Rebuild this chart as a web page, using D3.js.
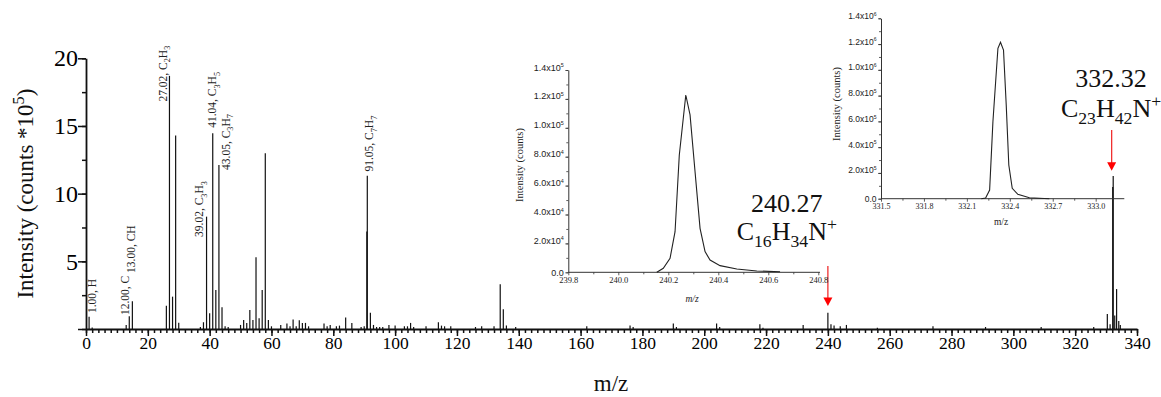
<!DOCTYPE html>
<html>
<head>
<meta charset="utf-8">
<script src="https://cdn.jsdelivr.net/npm/d3@7"></script>
<style>
  body { margin: 0; background: #fff; }
  svg { display: block; font-family: "Liberation Serif", "Times New Roman", serif; }
</style>
</head>
<body>
<div id="chart"></div>
<script>
// mass spectrum peaks (m/z, intensity in counts*10^5)
const peakMz = [1, 2, 13, 14, 15, 26, 27, 28, 29, 30, 37, 38, 39, 40, 41, 42, 43, 44, 45, 46,
  50, 51, 52, 53, 54, 55, 56, 57, 58, 59, 60, 63, 65, 66, 67, 68, 69, 70, 71, 72,
  77, 78, 79, 81, 82, 84, 86, 89, 90, 90.85, 91, 92, 93, 94, 95, 96, 98, 100, 103, 104,
  105, 106, 110, 114, 115, 116, 118, 126, 128, 132, 134, 135, 136, 139, 162, 176, 177, 190, 191, 204,
  205, 218, 219, 232, 240, 241, 242, 244, 246, 256, 274, 291, 309, 326, 330.4, 331.3, 332.15, 332.3, 332.8, 333.4,
  334.1, 334.6];
const peakInt = [0.91, 0.12, 0.3, 0.95, 2.05, 1.72, 18.7, 2.39, 14.29, 0.47, 0.15, 0.5, 8.3, 1.16, 14.46, 2.88, 12.12, 1.6, 0.2, 0.15,
  0.3, 0.66, 0.45, 1.4, 0.66, 5.3, 0.79, 2.88, 12.98, 0.66, 0.2, 0.3, 0.4, 0.2, 0.7, 0.2, 0.65, 0.45, 0.45, 0.2,
  0.4, 0.2, 0.3, 0.2, 0.25, 0.85, 0.45, 0.15, 0.2, 7.2, 11.33, 1.2, 0.3, 0.15, 0.15, 0.15, 0.3, 0.25, 0.2, 0.2,
  0.45, 0.15, 0.2, 0.5, 0.25, 0.2, 0.2, 0.15, 0.2, 0.2, 3.3, 1.45, 0.25, 0.15, 0.2, 0.25, 0.15, 0.4, 0.15, 0.4,
  0.15, 0.35, 0.1, 0.3, 1.2, 0.35, 0.25, 0.2, 0.3, 0.1, 0.2, 0.15, 0.15, 0.15, 1.1, 0.35, 10.5, 11.3, 1.0, 2.95,
  0.6, 0.3];

// fragment labels (anchor in data units, text with _{sub})
const labelMz = [3.1, 13.75, 15.85, 26.05, 38.0, 42.2, 46.6, 93.0];
const labelInt = [1.18, 1.03, 4.14, 16.8, 6.8, 14.86, 11.75, 11.63];
const labelText = ["1.00, H", "12.00, C", "13.00, CH", "27.02, C_{2}H_{3}", "39.02, C_{3}H_{3}",
  "41.04, C_{3}H_{5}", "43.05, C_{3}H_{7}", "91.05, C_{7}H_{7}"];

// molecular ion annotations
const ionMz = [226.7, 331.6];
const ionMassInt = [8.67, 17.9];
const ionFormulaInt = [6.58, 15.69];
const ionMass = ["240.27", "332.32"];
const ionFormula = ["C_{16}H_{34}N^{+}", "C_{23}H_{42}N^{+}"];
const arrowMz = [240.0, 331.8];
const arrowTop = [4.66, 14.7];
const arrowTip = [1.7, 11.7];

// axis ticks
const xTicks = [0, 20, 40, 60, 80, 100, 120, 140, 160, 180, 200, 220, 240, 260, 280, 300, 320, 340];
const yTicks = [0, 5, 10, 15, 20];

// inset 1: zoom on m/z 240.27
const in1Mz = [240.154, 240.18, 240.207, 240.227, 240.244, 240.27, 240.287, 240.307, 240.327, 240.347,
  240.367, 240.407, 240.474, 240.554, 240.647];
const in1Counts = [0, 2770, 9690, 28100, 81200, 122700, 108900, 69600, 30400, 14300,
  8500, 4600, 2300, 900, 400];
const in1XTicks = [239.8, 240.0, 240.2, 240.4, 240.6, 240.8];
const in1YTicks = [0, 2e4, 4e4, 6e4, 8e4, 1e5, 1.2e5, 1.4e5];

// inset 2: zoom on m/z 332.32
const in2Mz = [332.201, 332.231, 332.259, 332.282, 332.317, 332.335, 332.356, 332.375, 332.393, 332.417,
  332.456, 332.537, 332.676];
const in2Counts = [0, 5400, 67500, 597600, 1167000, 1213800, 1154000, 727000, 261500, 80700,
  34100, 7800, 0];
const in2XTicks = [331.5, 331.8, 332.1, 332.4, 332.7, 333.0];
const in2YTicks = [0, 2e5, 4e5, 6e5, 8e5, 1e6, 1.2e6, 1.4e6];

const w = 1161, h = 397;

const svg = d3.select("#chart")
  .append("svg")
  .attr("width", w)
  .attr("height", h);

// write text with _{sub} and ^{sup} parts as tspans
function rich(text, str, scale) {
  const fs = parseFloat(text.attr("font-size"));
  const parts = str.split(/([_^]\{[^}]*\})/).filter(s => s.length);
  let shift = 0;
  parts.forEach(p => {
    let target = 0, content = p, small = false;
    if (p[0] === "_") { target = 0.28 * fs; content = p.slice(2, -1); small = true; }
    else if (p[0] === "^") { target = -0.38 * fs; content = p.slice(2, -1); small = true; }
    const t = text.append("tspan").attr("dy", target - shift).text(content);
    if (small) t.attr("font-size", fs * scale);
    shift = target;
  });
}

// ---------- main spectrum ----------
const x = d3.scaleLinear().domain([0, 340]).range([86, 1137]);
const y = d3.scaleLinear().domain([0, 20]).range([329, 58.3]);

// peaks
svg.append("g")
  .selectAll("line")
  .data(peakMz)
  .join("line")
    .attr("x1", d => x(d))
    .attr("x2", d => x(d))
    .attr("y1", y(0))
    .attr("y2", (d, i) => y(peakInt[i]))
    .attr("stroke", "#111")
    .attr("stroke-width", 1.2);

// x axis (major + minor)
const axisX = svg.append("g")
  .attr("transform", `translate(0,${y(0)})`)
  .call(d3.axisBottom(x).tickValues(xTicks).tickSize(7).tickPadding(1).tickSizeOuter(0));
svg.append("g")
  .attr("transform", `translate(0,${y(0)})`)
  .call(d3.axisBottom(x).tickValues(d3.range(0, 341, 2)).tickSize(4).tickFormat("").tickSizeOuter(0))
  .call(g => g.select(".domain").remove());
axisX.selectAll("text")
  .attr("font-family", "Liberation Serif")
  .attr("font-size", 17.5)
  .attr("fill", "#000");

// y axis (major + minor)
const axisY = svg.append("g")
  .attr("transform", `translate(${x(0)},0)`)
  .call(d3.axisLeft(y).tickValues(yTicks).tickSize(8).tickPadding(0).tickSizeOuter(0)
    .tickFormat(d => d === 0 ? "" : d));
svg.append("g")
  .attr("transform", `translate(${x(0)},0)`)
  .call(d3.axisLeft(y).tickValues(d3.range(0, 20.1, 2.5)).tickSize(4).tickFormat("").tickSizeOuter(0))
  .call(g => g.select(".domain").remove());
axisY.selectAll("text")
  .attr("font-family", "Liberation Serif")
  .attr("font-size", 24)
  .attr("fill", "#000");

svg.selectAll(".domain").attr("stroke-width", 1.8).attr("stroke", "#111");
svg.selectAll(".tick line").attr("stroke-width", 1.5).attr("stroke", "#111");

// axis titles
const yTitle = svg.append("text")
  .attr("transform", `translate(33,${(y(0) + y(20)) / 2}) rotate(-90)`)
  .attr("text-anchor", "middle")
  .attr("font-size", 23)
  .attr("fill", "#111");
rich(yTitle, "Intensity (counts *10^{5})", 0.7);

svg.append("text")
  .attr("x", 611)
  .attr("y", 391)
  .attr("text-anchor", "middle")
  .attr("font-size", 23)
  .attr("fill", "#111")
  .text("m/z");

// fragment labels
labelText.forEach((t, i) => {
  const txt = svg.append("text")
    .attr("transform", `translate(${x(labelMz[i])},${y(labelInt[i])}) rotate(-90)`)
    .attr("font-size", 11.5)
    .attr("fill", "#222");
  rich(txt, t, 0.72);
});

// ion annotations and red arrows
ionMass.forEach((m, i) => {
  svg.append("text")
    .attr("x", x(ionMz[i]))
    .attr("y", y(ionMassInt[i]))
    .attr("text-anchor", "middle")
    .attr("font-size", 26)
    .attr("fill", "#111")
    .text(m);
  const f = svg.append("text")
    .attr("x", x(ionMz[i]))
    .attr("y", y(ionFormulaInt[i]))
    .attr("text-anchor", "middle")
    .attr("font-size", 26)
    .attr("fill", "#111");
  rich(f, ionFormula[i], 0.68);

  const ax = x(arrowMz[i]), top = y(arrowTop[i]), tip = y(arrowTip[i]);
  svg.append("line")
    .attr("x1", ax).attr("x2", ax)
    .attr("y1", top).attr("y2", tip - 7)
    .attr("stroke", "#f03030")
    .attr("stroke-width", 1.3);
  svg.append("path")
    .attr("d", `M${ax - 4.5},${tip - 8.5} L${ax + 4.5},${tip - 8.5} L${ax},${tip} Z`)
    .attr("fill", "#ff0000");
});

// ---------- insets ----------
function drawInset(cfg) {
  const g = svg.append("g");
  const ix = d3.scaleLinear().domain(cfg.xDomain).range(cfg.xRange);
  const iy = d3.scaleLinear().domain(cfg.yDomain).range(cfg.yRange);

  // y axis
  const ay = g.append("g")
    .attr("transform", `translate(${cfg.xRange[0]},0)`)
    .call(d3.axisLeft(iy).tickValues(cfg.yTicks).tickSize(3).tickPadding(2).tickSizeOuter(0)
      .tickFormat(""));
  g.append("g")
    .attr("transform", `translate(${cfg.xRange[0]},0)`)
    .call(d3.axisLeft(iy).tickValues(d3.range(0, cfg.yDomain[1] * 1.0001, cfg.yTicks[1] / 2))
      .tickSize(2).tickFormat("").tickSizeOuter(0))
    .call(s => s.select(".domain").remove());
  ay.selectAll(".tick").each(function(d) {
    const t = d3.select(this).append("text")
      .attr("x", -4.5)
      .attr("dy", "0.32em")
      .attr("text-anchor", "end")
      .attr("font-size", cfg.yFont)
      .attr("fill", "#222");
    if (d === 0) { t.text("0.0"); return; }
    const e = Math.floor(Math.log10(d) + 1e-9);
    rich(t, (d / Math.pow(10, e)).toFixed(1) + "x10^{" + e + "}", 0.6);
  });

  // x axis
  const axg = g.append("g")
    .attr("transform", `translate(0,${cfg.yRange[0]})`)
    .call(d3.axisBottom(ix).tickValues(cfg.xTicks).tickSize(3).tickPadding(2).tickSizeOuter(0)
      .tickFormat(d => d.toFixed(1)));
  g.append("g")
    .attr("transform", `translate(0,${cfg.yRange[0]})`)
    .call(d3.axisBottom(ix).tickValues(cfg.xTicks.slice(0, -1).map(v => v + cfg.minorStep))
      .tickSize(2).tickFormat("").tickSizeOuter(0))
    .call(s => s.select(".domain").remove());
  axg.select(".domain").attr("d", `M${cfg.xRange[0]},0H${cfg.axisEnd}`);
  axg.selectAll("text")
    .attr("font-family", "Liberation Serif")
    .attr("font-size", cfg.xFont)
    .attr("fill", "#222");

  g.selectAll(".domain").attr("stroke", "#333").attr("stroke-width", 1);
  g.selectAll(".tick line").attr("stroke", "#333").attr("stroke-width", 0.8);

  // curve
  g.append("path")
    .datum(cfg.mz)
    .attr("d", d3.line().x(d => ix(d)).y((d, i) => iy(cfg.counts[i])))
    .attr("fill", "none")
    .attr("stroke", "#222")
    .attr("stroke-width", 1.1);

  // titles
  g.append("text")
    .attr("transform", `translate(${cfg.yTitleX},${cfg.yTitleY}) rotate(-90)`)
    .attr("text-anchor", "middle")
    .attr("font-size", 10.5)
    .attr("fill", "#222")
    .text("Intensity (counts)");
  g.append("text")
    .attr("x", cfg.xTitleX)
    .attr("y", cfg.xTitleY)
    .attr("text-anchor", "middle")
    .attr("font-size", 9.5)
    .attr("font-style", cfg.italic ? "italic" : "normal")
    .attr("fill", "#222")
    .text("m/z");
}

drawInset({
  mz: in1Mz, counts: in1Counts, xTicks: in1XTicks, yTicks: in1YTicks,
  xDomain: [239.8, 240.8], xRange: [568.3, 818.3], axisEnd: 820,
  yDomain: [0, 1.4e5], yRange: [272.3, 70],
  minorStep: 0.1, xFont: 8.5, yFont: 9,
  yTitleX: 523, yTitleY: 165, xTitleX: 692, xTitleY: 302, italic: true
});

drawInset({
  mz: in2Mz, counts: in2Counts, xTicks: in2XTicks, yTicks: in2YTicks,
  xDomain: [331.5, 333.2], xRange: [881, 1124.3], axisEnd: 1124.3,
  yDomain: [0, 1.4e6], yRange: [198.7, 18.3],
  minorStep: 0.15, xFont: 8, yFont: 8.5,
  yTitleX: 840, yTitleY: 104, xTitleX: 1001, xTitleY: 225, italic: false
});
</script>
</body>
</html>
